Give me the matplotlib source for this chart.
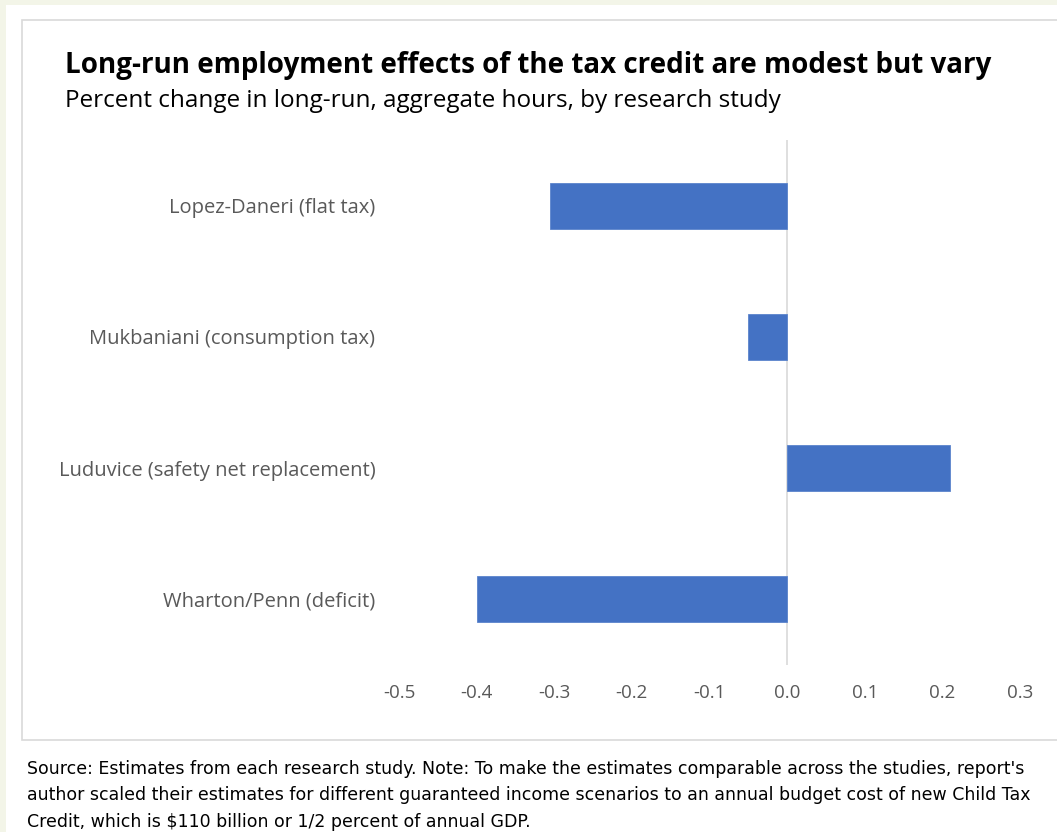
import matplotlib
matplotlib.use("Agg")
import matplotlib.pyplot as plt
from matplotlib.patches import Rectangle

studies = [
    "Lopez-Daneri (flat tax)",
    "Mukbaniani (consumption tax)",
    "Luduvice (safety net replacement)",
    "Wharton/Penn (deficit)",
]
hours_change = [-0.305, -0.05, 0.21, -0.40]
xticks = [-0.5, -0.4, -0.3, -0.2, -0.1, 0.0, 0.1, 0.2, 0.3]

body = "Open Sans"

W, H = 1057, 832
fig = plt.figure(figsize=(W / 100, H / 100), dpi=100)
fig.patch.set_facecolor("#f3f5e8")

# white page and chart frame
fig.add_artist(Rectangle((6 / W, 0), 1 - 6 / W, 1 - 5 / H, transform=fig.transFigure,
                         facecolor="white", edgecolor="none", zorder=-2))
fig.add_artist(Rectangle((22 / W, 1 - 740 / H), (W - 22) / W + 0.01, (740 - 20) / H,
                         transform=fig.transFigure, facecolor="white",
                         edgecolor="#d9d9d9", linewidth=1.2, zorder=-1))

ax = fig.add_axes([399 / W, 1 - 665 / H, (1020 - 399) / W, (665 - 140) / H])
ax.set_zorder(2)
ax.set_facecolor("none")
y = list(range(len(studies)))
ax.barh(y, hours_change, height=0.35, color="#4472c4", edgecolor="#5b84cc",
        linewidth=0.6, zorder=2)
ax.set_ylim(len(studies) - 0.5, -0.5)
ax.set_xlim(-0.5, 0.3)
ax.axvline(0, color="#d9d9d9", linewidth=1.2, zorder=1)
ax.set_yticks(y)
ax.set_yticklabels(studies, fontsize=14.5, color="#595959", family=body)
ax.set_xticks(xticks)
ax.set_xticklabels([f"{v:.1f}" for v in xticks], fontsize=13.5, color="#595959", family=body)
ax.tick_params(length=0)
ax.tick_params(axis="y", pad=17)
ax.tick_params(axis="x", pad=14)
for s in ax.spines.values():
    s.set_visible(False)

fig.text(65 / W, 1 - 65 / H, "Long-run employment effects of the tax credit are modest but vary",
         fontsize=20, fontweight="bold", family=body, color="black", va="center")
fig.text(65 / W, 1 - 101 / H, "Percent change in long-run, aggregate hours, by research study",
         fontsize=17.5, family=body, color="black", va="center")

footnote = ("Source: Estimates from each research study. Note: To make the estimates comparable across the studies, report's\n"
            "author scaled their estimates for different guaranteed income scenarios to an annual budget cost of new Child Tax\n"
            "Credit, which is $110 billion or 1/2 percent of annual GDP.")
fig.text(27 / W, 1 - 760 / H, footnote, fontsize=12.5, family="DejaVu Sans", color="black",
         va="top", linespacing=1.6)

fig.savefig("out.png", dpi=100, facecolor=fig.get_facecolor())
